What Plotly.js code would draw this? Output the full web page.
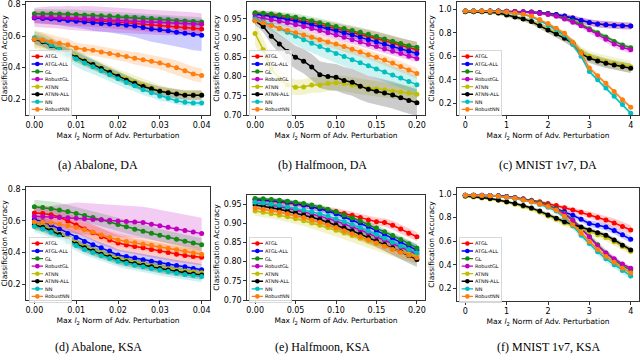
<!DOCTYPE html>
<html><head><meta charset="utf-8">
<script src="https://cdn.plot.ly/plotly-3.0.1.min.js"></script>
<style>html,body{margin:0;padding:0;background:#fff;}#chart{width:640px;height:360px;}</style>
</head><body><div id="chart"></div>
<script>
// ---------- x grids ----------
const xA = [0,0.002,0.004,0.006,0.008,0.01,0.012,0.014,0.016,0.018,0.02,0.022,0.024,0.026,0.028,0.03,0.032,0.034,0.036,0.038,0.04];
const xB = [0,0.01,0.02,0.03,0.04,0.05,0.06,0.07,0.08,0.09,0.1,0.11,0.12,0.13,0.14,0.15,0.16,0.17,0.18,0.19,0.2];
const xC = [0,0.2,0.4,0.6,0.8,1.0,1.2,1.4,1.6,1.8,2.0,2.2,2.4,2.6,2.8,3.0,3.2,3.4,3.6,3.8,4.0];

const seriesNames = ["ATGL","ATGL-ALL","GL","RobustGL","ATNN","ATNN-ALL","NN","RobustNN"];
const seriesColors = ["#ff0000","#0000ff","#138a13","#c000c0","#bfbf00","#000000","#00bfbf","#ff7f0e"];
const captions = ["(a) Abalone, DA","(b) Halfmoon, DA","(c) MNIST 1v7, DA","(d) Abalone, KSA","(e) Halfmoon, KSA","(f) MNIST 1v7, KSA"];
const xTicksA = [0,0.01,0.02,0.03,0.04];
const xTicksB = [0,0.05,0.1,0.15,0.2];
const xTicksC = [0,1,2,3,4];
const yTicksAcc = [0.2,0.4,0.6,0.8];
const yTicksHalf = [0.7,0.75,0.8,0.85,0.9,0.95];
const yTicksMnist = [0.2,0.4,0.6,0.8,1.0];

// ---------- (a) Abalone, DA ----------
const a_ATGL    = [0.72,0.718,0.715,0.712,0.71,0.706,0.703,0.70,0.697,0.693,0.69,0.685,0.68,0.676,0.672,0.668,0.664,0.66,0.655,0.65,0.645];
const a_ATGLALL = [0.715,0.712,0.71,0.705,0.70,0.695,0.69,0.685,0.68,0.678,0.675,0.67,0.665,0.655,0.645,0.64,0.635,0.625,0.618,0.61,0.605];
const a_GL      = [0.743,0.743,0.742,0.74,0.74,0.738,0.735,0.733,0.73,0.728,0.725,0.722,0.718,0.715,0.712,0.708,0.705,0.70,0.697,0.693,0.69];
const a_RGL     = [0.72,0.72,0.72,0.718,0.716,0.714,0.712,0.71,0.707,0.704,0.70,0.697,0.695,0.692,0.69,0.688,0.685,0.683,0.68,0.678,0.675];
const a_ATNN    = [0.58,0.565,0.545,0.52,0.495,0.47,0.445,0.42,0.40,0.375,0.35,0.33,0.31,0.29,0.27,0.255,0.245,0.235,0.23,0.228,0.228];
const a_ATNNALL = [0.58,0.565,0.54,0.515,0.49,0.465,0.44,0.42,0.395,0.37,0.345,0.32,0.30,0.28,0.265,0.25,0.24,0.232,0.225,0.225,0.225];
const a_NN      = [0.59,0.57,0.545,0.515,0.485,0.455,0.43,0.405,0.38,0.355,0.33,0.305,0.285,0.26,0.24,0.22,0.205,0.19,0.18,0.175,0.175];
const a_RNN     = [0.58,0.575,0.565,0.555,0.545,0.525,0.515,0.51,0.50,0.49,0.48,0.47,0.46,0.45,0.44,0.43,0.415,0.40,0.38,0.36,0.35];
const a_ATGL_sd    = [0.04,0.04,0.04,0.04,0.04,0.04,0.042,0.042,0.042,0.043,0.043,0.044,0.044,0.045,0.045,0.045,0.046,0.046,0.047,0.047,0.048];
const a_ATGLALL_sd = [0.03,0.03,0.035,0.035,0.04,0.04,0.045,0.05,0.05,0.055,0.06,0.065,0.07,0.075,0.08,0.085,0.09,0.09,0.095,0.1,0.1];
const a_GL_sd      = [0.03,0.03,0.03,0.03,0.03,0.03,0.03,0.03,0.03,0.03,0.03,0.03,0.03,0.03,0.03,0.03,0.03,0.03,0.03,0.03,0.03];
const a_RGL_sd     = [0.06,0.065,0.07,0.07,0.075,0.075,0.08,0.08,0.08,0.08,0.08,0.08,0.08,0.08,0.08,0.08,0.078,0.076,0.075,0.073,0.07];
const a_ATNN_sd    = [0.06,0.055,0.05,0.045,0.04,0.04,0.04,0.04,0.04,0.04,0.04,0.04,0.04,0.04,0.035,0.035,0.03,0.03,0.03,0.03,0.03];
const a_ATNNALL_sd = [0.03,0.03,0.03,0.03,0.03,0.03,0.03,0.03,0.03,0.03,0.03,0.03,0.03,0.03,0.03,0.03,0.03,0.03,0.03,0.03,0.03];
const a_NN_sd      = [0.04,0.04,0.045,0.045,0.045,0.05,0.05,0.045,0.045,0.04,0.04,0.04,0.035,0.035,0.03,0.03,0.025,0.025,0.02,0.02,0.02];
const a_RNN_sd     = [0.05,0.05,0.045,0.04,0.04,0.035,0.035,0.035,0.035,0.035,0.035,0.035,0.04,0.04,0.04,0.04,0.045,0.045,0.045,0.045,0.045];

// ---------- (b) Halfmoon, DA ----------
const b_ATGL    = [0.965,0.963,0.96,0.957,0.953,0.949,0.945,0.94,0.935,0.93,0.925,0.92,0.915,0.91,0.905,0.899,0.893,0.887,0.881,0.875,0.87];
const b_ATGLALL = [0.962,0.96,0.957,0.953,0.949,0.945,0.94,0.935,0.93,0.925,0.92,0.914,0.908,0.902,0.896,0.89,0.884,0.878,0.872,0.866,0.86];
const b_GL      = [0.966,0.965,0.963,0.96,0.957,0.954,0.95,0.945,0.94,0.935,0.93,0.925,0.92,0.915,0.91,0.904,0.898,0.892,0.886,0.88,0.876];
const b_RGL     = [0.955,0.952,0.948,0.944,0.94,0.935,0.93,0.925,0.92,0.914,0.908,0.902,0.896,0.89,0.884,0.878,0.872,0.866,0.86,0.853,0.847];
const b_ATNN    = [0.912,0.87,0.82,0.795,0.778,0.772,0.773,0.778,0.778,0.782,0.784,0.782,0.778,0.774,0.77,0.768,0.765,0.762,0.76,0.757,0.754];
const b_ATNNALL = [0.945,0.93,0.905,0.885,0.865,0.85,0.84,0.825,0.805,0.80,0.798,0.79,0.785,0.775,0.767,0.762,0.757,0.752,0.745,0.738,0.732];
const b_NN      = [0.95,0.943,0.934,0.925,0.915,0.905,0.896,0.887,0.878,0.869,0.86,0.852,0.844,0.836,0.828,0.82,0.812,0.804,0.796,0.787,0.779];
const b_RNN     = [0.945,0.94,0.933,0.926,0.92,0.914,0.908,0.902,0.896,0.89,0.885,0.878,0.871,0.864,0.857,0.85,0.843,0.835,0.826,0.817,0.808];
const b_ATGL_sd    = [0.008,0.008,0.009,0.009,0.01,0.01,0.011,0.012,0.012,0.013,0.014,0.014,0.015,0.016,0.016,0.017,0.018,0.018,0.019,0.02,0.02];
const b_ATGLALL_sd = [0.006,0.006,0.007,0.007,0.007,0.008,0.008,0.008,0.008,0.008,0.008,0.008,0.008,0.009,0.009,0.009,0.009,0.01,0.01,0.01,0.01];
const b_GL_sd      = [0.006,0.007,0.008,0.008,0.009,0.01,0.01,0.011,0.011,0.012,0.012,0.012,0.013,0.013,0.013,0.014,0.014,0.014,0.015,0.015,0.015];
const b_RGL_sd     = [0.008,0.008,0.009,0.009,0.01,0.01,0.01,0.01,0.01,0.01,0.01,0.01,0.01,0.01,0.01,0.01,0.01,0.01,0.01,0.01,0.01];
const b_ATNN_sd    = [0.03,0.03,0.03,0.025,0.022,0.02,0.02,0.02,0.02,0.02,0.02,0.02,0.02,0.02,0.02,0.02,0.02,0.02,0.02,0.02,0.02];
const b_ATNNALL_sd = [0.01,0.015,0.02,0.025,0.03,0.03,0.032,0.034,0.035,0.035,0.035,0.035,0.035,0.035,0.035,0.035,0.035,0.035,0.035,0.035,0.035];
const b_NN_sd      = [0.01,0.012,0.015,0.018,0.02,0.022,0.024,0.025,0.025,0.025,0.025,0.025,0.025,0.025,0.025,0.025,0.025,0.025,0.025,0.025,0.025];
const b_RNN_sd     = [0.008,0.009,0.01,0.01,0.011,0.011,0.012,0.012,0.012,0.012,0.012,0.012,0.012,0.012,0.012,0.012,0.013,0.013,0.013,0.014,0.014];

// ---------- (c) MNIST 1v7, DA ----------
const c_ATGL    = [0.985,0.985,0.985,0.985,0.985,0.984,0.982,0.98,0.977,0.972,0.965,0.955,0.942,0.925,0.905,0.888,0.875,0.868,0.863,0.86,0.858];
const c_ATGLALL = [0.985,0.985,0.985,0.985,0.985,0.984,0.982,0.98,0.977,0.972,0.965,0.955,0.942,0.925,0.905,0.888,0.875,0.868,0.863,0.86,0.858];
const c_GL      = [0.985,0.985,0.985,0.985,0.984,0.982,0.98,0.977,0.972,0.967,0.96,0.945,0.925,0.9,0.87,0.835,0.8,0.765,0.725,0.695,0.672];
const c_RGL     = [0.985,0.985,0.985,0.985,0.984,0.982,0.979,0.976,0.972,0.965,0.955,0.94,0.918,0.89,0.86,0.825,0.785,0.745,0.705,0.675,0.655];
const c_ATNN    = [0.98,0.98,0.978,0.975,0.968,0.953,0.937,0.92,0.898,0.865,0.83,0.795,0.76,0.715,0.64,0.6,0.575,0.555,0.54,0.525,0.51];
const c_ATNNALL = [0.98,0.98,0.978,0.975,0.968,0.952,0.935,0.918,0.895,0.86,0.824,0.79,0.753,0.71,0.625,0.583,0.56,0.54,0.525,0.51,0.498];
const c_NN      = [0.985,0.985,0.985,0.984,0.982,0.975,0.965,0.955,0.938,0.905,0.867,0.825,0.78,0.70,0.60,0.47,0.40,0.33,0.26,0.19,0.115];
const c_RNN     = [0.985,0.985,0.985,0.984,0.982,0.977,0.968,0.958,0.942,0.912,0.878,0.838,0.795,0.72,0.625,0.5,0.435,0.37,0.3,0.23,0.166];
const c_ATGL_sd    = [0.005,0.005,0.005,0.005,0.005,0.005,0.005,0.006,0.007,0.008,0.01,0.014,0.018,0.022,0.025,0.028,0.03,0.03,0.03,0.03,0.03];
const c_ATGLALL_sd = [0.005,0.005,0.005,0.005,0.005,0.005,0.005,0.006,0.007,0.008,0.01,0.014,0.018,0.022,0.025,0.028,0.03,0.03,0.03,0.03,0.03];
const c_GL_sd      = [0.005,0.005,0.005,0.005,0.005,0.005,0.006,0.007,0.008,0.009,0.01,0.012,0.014,0.016,0.018,0.02,0.02,0.02,0.02,0.02,0.02];
const c_RGL_sd     = [0.005,0.005,0.005,0.005,0.005,0.005,0.006,0.007,0.008,0.01,0.012,0.015,0.018,0.02,0.022,0.025,0.028,0.03,0.03,0.03,0.03];
const c_ATNN_sd    = [0.008,0.008,0.01,0.012,0.014,0.016,0.018,0.02,0.022,0.025,0.028,0.03,0.033,0.036,0.04,0.045,0.048,0.05,0.05,0.05,0.05];
const c_ATNNALL_sd = [0.008,0.008,0.01,0.012,0.014,0.016,0.018,0.02,0.022,0.025,0.028,0.03,0.033,0.035,0.038,0.04,0.04,0.04,0.04,0.04,0.04];
const c_NN_sd      = [0.005,0.005,0.005,0.005,0.006,0.007,0.008,0.009,0.01,0.012,0.014,0.016,0.018,0.02,0.02,0.02,0.02,0.02,0.02,0.02,0.02];
const c_RNN_sd     = [0.005,0.005,0.005,0.005,0.006,0.007,0.008,0.009,0.01,0.012,0.014,0.016,0.018,0.02,0.02,0.02,0.02,0.02,0.02,0.02,0.02];

// ---------- (d) Abalone, KSA ----------
const d_ATGL    = [0.65,0.648,0.64,0.625,0.60,0.575,0.55,0.525,0.50,0.48,0.46,0.448,0.438,0.43,0.42,0.41,0.40,0.39,0.382,0.376,0.37];
const d_ATGLALL = [0.61,0.595,0.575,0.55,0.52,0.495,0.47,0.45,0.43,0.41,0.385,0.375,0.365,0.355,0.345,0.335,0.325,0.318,0.31,0.30,0.292];
const d_GL      = [0.69,0.685,0.678,0.67,0.66,0.648,0.635,0.622,0.608,0.593,0.578,0.563,0.548,0.535,0.522,0.51,0.497,0.485,0.472,0.46,0.45];
const d_RGL     = [0.63,0.628,0.625,0.622,0.62,0.617,0.614,0.61,0.607,0.604,0.60,0.597,0.594,0.59,0.58,0.57,0.56,0.55,0.54,0.53,0.52];
const d_ATNN    = [0.58,0.565,0.545,0.52,0.49,0.462,0.437,0.417,0.398,0.38,0.364,0.35,0.338,0.327,0.317,0.307,0.298,0.29,0.284,0.278,0.272];
const d_ATNNALL = [0.575,0.56,0.54,0.515,0.485,0.455,0.43,0.41,0.39,0.372,0.355,0.342,0.33,0.32,0.31,0.30,0.29,0.281,0.273,0.265,0.258];
const d_NN      = [0.565,0.55,0.528,0.50,0.47,0.445,0.42,0.40,0.38,0.362,0.345,0.332,0.32,0.31,0.30,0.29,0.28,0.27,0.262,0.255,0.248];
const d_RNN     = [0.595,0.593,0.588,0.58,0.57,0.558,0.545,0.53,0.512,0.495,0.48,0.47,0.462,0.454,0.446,0.436,0.427,0.418,0.408,0.398,0.39];
const d_ATGL_sd    = [0.05,0.05,0.05,0.05,0.05,0.05,0.05,0.05,0.05,0.05,0.05,0.05,0.05,0.05,0.05,0.05,0.05,0.05,0.05,0.05,0.05];
const d_ATGLALL_sd = [0.03,0.03,0.03,0.032,0.032,0.033,0.033,0.034,0.034,0.035,0.035,0.035,0.035,0.035,0.035,0.035,0.035,0.035,0.035,0.035,0.035];
const d_GL_sd      = [0.045,0.045,0.045,0.045,0.04,0.04,0.04,0.04,0.04,0.04,0.04,0.04,0.04,0.04,0.04,0.04,0.04,0.04,0.04,0.04,0.04];
const d_RGL_sd     = [0.05,0.06,0.07,0.08,0.09,0.1,0.1,0.1,0.1,0.1,0.1,0.1,0.1,0.1,0.1,0.1,0.1,0.1,0.1,0.1,0.1];
const d_ATNN_sd    = [0.03,0.03,0.03,0.03,0.03,0.03,0.03,0.03,0.03,0.03,0.03,0.03,0.03,0.03,0.03,0.03,0.03,0.03,0.03,0.03,0.03];
const d_ATNNALL_sd = [0.03,0.03,0.03,0.03,0.03,0.03,0.03,0.03,0.03,0.03,0.03,0.03,0.03,0.03,0.03,0.03,0.03,0.03,0.03,0.03,0.03];
const d_NN_sd      = [0.035,0.035,0.035,0.035,0.035,0.035,0.035,0.035,0.035,0.035,0.035,0.035,0.035,0.035,0.035,0.035,0.035,0.035,0.035,0.035,0.035];
const d_RNN_sd     = [0.045,0.045,0.045,0.04,0.04,0.04,0.04,0.04,0.04,0.04,0.04,0.04,0.04,0.04,0.04,0.04,0.04,0.04,0.04,0.04,0.04];

// ---------- (e) Halfmoon, KSA ----------
const e_ATGL    = [0.962,0.96,0.958,0.956,0.953,0.95,0.947,0.943,0.939,0.935,0.931,0.926,0.921,0.915,0.909,0.904,0.902,0.895,0.885,0.874,0.865];
const e_ATGLALL = [0.962,0.961,0.96,0.958,0.955,0.952,0.948,0.943,0.938,0.932,0.925,0.917,0.909,0.90,0.891,0.881,0.871,0.861,0.851,0.84,0.83];
const e_GL      = [0.965,0.964,0.962,0.96,0.958,0.955,0.952,0.948,0.943,0.937,0.93,0.922,0.914,0.906,0.897,0.888,0.878,0.868,0.858,0.847,0.836];
const e_RGL     = [0.955,0.952,0.948,0.944,0.94,0.935,0.93,0.925,0.919,0.913,0.906,0.899,0.891,0.883,0.874,0.865,0.856,0.847,0.838,0.829,0.82];
const e_ATNN    = [0.932,0.929,0.925,0.921,0.917,0.912,0.907,0.901,0.895,0.889,0.882,0.875,0.868,0.861,0.854,0.847,0.84,0.833,0.826,0.82,0.815];
const e_ATNNALL = [0.948,0.945,0.941,0.937,0.932,0.927,0.922,0.916,0.91,0.903,0.896,0.888,0.88,0.872,0.863,0.854,0.845,0.836,0.826,0.816,0.806];
const e_NN      = [0.955,0.953,0.95,0.947,0.943,0.939,0.935,0.93,0.925,0.919,0.912,0.905,0.897,0.889,0.88,0.871,0.861,0.851,0.841,0.832,0.823];
const e_RNN     = [0.94,0.937,0.933,0.929,0.925,0.92,0.915,0.909,0.903,0.896,0.889,0.881,0.873,0.865,0.857,0.849,0.84,0.832,0.824,0.817,0.81];
const e_ATGL_sd    = [0.006,0.006,0.006,0.006,0.007,0.007,0.007,0.008,0.008,0.008,0.009,0.009,0.01,0.01,0.01,0.011,0.011,0.012,0.012,0.012,0.012];
const e_ATGLALL_sd = [0.006,0.006,0.006,0.006,0.007,0.007,0.007,0.007,0.008,0.008,0.008,0.008,0.009,0.009,0.01,0.01,0.011,0.012,0.013,0.014,0.015];
const e_GL_sd      = [0.005,0.005,0.005,0.005,0.005,0.005,0.006,0.006,0.006,0.006,0.006,0.007,0.007,0.007,0.008,0.008,0.008,0.009,0.009,0.01,0.01];
const e_RGL_sd     = [0.007,0.007,0.007,0.007,0.008,0.008,0.008,0.008,0.008,0.009,0.009,0.009,0.01,0.01,0.01,0.011,0.012,0.013,0.014,0.015,0.016];
const e_ATNN_sd    = [0.012,0.012,0.012,0.013,0.013,0.014,0.014,0.015,0.015,0.016,0.016,0.017,0.017,0.018,0.018,0.018,0.019,0.019,0.02,0.02,0.02];
const e_ATNNALL_sd = [0.008,0.008,0.009,0.009,0.01,0.01,0.01,0.011,0.011,0.012,0.012,0.013,0.013,0.014,0.015,0.016,0.017,0.018,0.019,0.02,0.02];
const e_NN_sd      = [0.008,0.008,0.009,0.009,0.01,0.01,0.01,0.011,0.011,0.012,0.012,0.013,0.014,0.015,0.016,0.017,0.018,0.019,0.02,0.021,0.022];
const e_RNN_sd     = [0.008,0.008,0.008,0.009,0.009,0.009,0.01,0.01,0.01,0.01,0.01,0.011,0.011,0.011,0.012,0.012,0.012,0.013,0.013,0.014,0.014];

// ---------- (f) MNIST 1v7, KSA ----------
const f_ATGL    = [0.99,0.99,0.99,0.988,0.985,0.978,0.97,0.96,0.948,0.935,0.92,0.902,0.884,0.865,0.845,0.822,0.80,0.78,0.755,0.725,0.695];
const f_ATGLALL = [0.99,0.99,0.99,0.988,0.985,0.978,0.968,0.955,0.94,0.922,0.90,0.875,0.85,0.82,0.785,0.75,0.735,0.72,0.69,0.655,0.615];
const f_GL      = [0.99,0.99,0.988,0.986,0.983,0.977,0.968,0.957,0.944,0.928,0.905,0.875,0.836,0.78,0.71,0.64,0.57,0.50,0.44,0.39,0.355];
const f_RGL     = [0.99,0.99,0.988,0.985,0.982,0.975,0.965,0.953,0.938,0.92,0.897,0.867,0.83,0.775,0.71,0.635,0.56,0.50,0.45,0.405,0.37];
const f_ATNN    = [0.98,0.975,0.967,0.958,0.946,0.93,0.914,0.895,0.874,0.847,0.814,0.785,0.755,0.73,0.705,0.68,0.655,0.63,0.595,0.555,0.515];
const f_ATNNALL = [0.983,0.978,0.97,0.962,0.95,0.935,0.92,0.902,0.882,0.855,0.822,0.795,0.765,0.742,0.72,0.695,0.672,0.65,0.61,0.565,0.525];
const f_NN      = [0.99,0.99,0.988,0.985,0.98,0.972,0.962,0.948,0.932,0.912,0.888,0.855,0.80,0.73,0.65,0.58,0.51,0.45,0.40,0.35,0.305];
const f_RNN     = [0.99,0.99,0.988,0.985,0.98,0.973,0.963,0.95,0.935,0.916,0.893,0.862,0.81,0.74,0.665,0.595,0.53,0.47,0.42,0.37,0.33];
const f_ATGL_sd    = [0.005,0.005,0.005,0.005,0.005,0.005,0.005,0.005,0.008,0.01,0.012,0.015,0.018,0.02,0.025,0.03,0.032,0.035,0.038,0.04,0.04];
const f_ATGLALL_sd = [0.005,0.005,0.005,0.005,0.005,0.005,0.005,0.006,0.008,0.01,0.012,0.015,0.018,0.022,0.025,0.028,0.03,0.03,0.03,0.03,0.03];
const f_GL_sd      = [0.005,0.005,0.005,0.005,0.005,0.005,0.006,0.007,0.008,0.01,0.012,0.015,0.018,0.02,0.022,0.025,0.025,0.025,0.025,0.025,0.025];
const f_RGL_sd     = [0.005,0.005,0.005,0.005,0.005,0.005,0.006,0.007,0.008,0.01,0.012,0.014,0.016,0.018,0.02,0.02,0.02,0.02,0.02,0.02,0.02];
const f_ATNN_sd    = [0.008,0.008,0.01,0.01,0.012,0.014,0.016,0.018,0.02,0.022,0.024,0.026,0.028,0.03,0.03,0.03,0.03,0.03,0.03,0.03,0.03];
const f_ATNNALL_sd = [0.008,0.008,0.009,0.01,0.011,0.012,0.013,0.014,0.015,0.016,0.017,0.018,0.019,0.02,0.02,0.02,0.02,0.02,0.02,0.02,0.02];
const f_NN_sd      = [0.005,0.005,0.005,0.005,0.006,0.007,0.008,0.01,0.012,0.015,0.018,0.022,0.026,0.03,0.03,0.03,0.03,0.03,0.03,0.03,0.03];
const f_RNN_sd     = [0.005,0.005,0.005,0.005,0.006,0.007,0.008,0.009,0.01,0.012,0.014,0.016,0.018,0.02,0.02,0.02,0.02,0.02,0.02,0.02,0.02];

// ---------- assembly ----------
const panelMeans = [
  [a_ATGL,a_ATGLALL,a_GL,a_RGL,a_ATNN,a_ATNNALL,a_NN,a_RNN],
  [b_ATGL,b_ATGLALL,b_GL,b_RGL,b_ATNN,b_ATNNALL,b_NN,b_RNN],
  [c_ATGL,c_ATGLALL,c_GL,c_RGL,c_ATNN,c_ATNNALL,c_NN,c_RNN],
  [d_ATGL,d_ATGLALL,d_GL,d_RGL,d_ATNN,d_ATNNALL,d_NN,d_RNN],
  [e_ATGL,e_ATGLALL,e_GL,e_RGL,e_ATNN,e_ATNNALL,e_NN,e_RNN],
  [f_ATGL,f_ATGLALL,f_GL,f_RGL,f_ATNN,f_ATNNALL,f_NN,f_RNN]
];
const panelSds = [
  [a_ATGL_sd,a_ATGLALL_sd,a_GL_sd,a_RGL_sd,a_ATNN_sd,a_ATNNALL_sd,a_NN_sd,a_RNN_sd],
  [b_ATGL_sd,b_ATGLALL_sd,b_GL_sd,b_RGL_sd,b_ATNN_sd,b_ATNNALL_sd,b_NN_sd,b_RNN_sd],
  [c_ATGL_sd,c_ATGLALL_sd,c_GL_sd,c_RGL_sd,c_ATNN_sd,c_ATNNALL_sd,c_NN_sd,c_RNN_sd],
  [d_ATGL_sd,d_ATGLALL_sd,d_GL_sd,d_RGL_sd,d_ATNN_sd,d_ATNNALL_sd,d_NN_sd,d_RNN_sd],
  [e_ATGL_sd,e_ATGLALL_sd,e_GL_sd,e_RGL_sd,e_ATNN_sd,e_ATNNALL_sd,e_NN_sd,e_RNN_sd],
  [f_ATGL_sd,f_ATGLALL_sd,f_GL_sd,f_RGL_sd,f_ATNN_sd,f_ATNNALL_sd,f_NN_sd,f_RNN_sd]
];
const panelX = [xA,xB,xC,xA,xB,xC];
const panelXTicks = [xTicksA,xTicksB,xTicksC,xTicksA,xTicksB,xTicksC];
const panelXFmt = ['.2f','.2f','d','.2f','.2f','d'];
const panelYTicks = [yTicksAcc,yTicksHalf,yTicksMnist,yTicksAcc,yTicksHalf,yTicksMnist];
const panelYFmt = ['.1f','.2f','.1f','.1f','.2f','.1f'];
const panelXRange = [[-0.002,0.042],[-0.01,0.21],[-0.2,4.2],[-0.002,0.042],[-0.01,0.21],[-0.2,4.2]];
const panelYRange = [[0.099,0.817],[0.70,0.994],[0.10,1.062],[0.10,0.815],[0.70,0.974],[0.092,1.051]];
// plot-area pixel boxes [left,right,top,bottom]
const boxes = [[26,210,2,115],[247,425,2,115],[457,639,2,115],[26,210,187,300],[247,425,195,300],[457,639,188,301]];
const legendPos = [[29,50],[249,50],[459,50],[29,237],[249,237],[459,237]];
const captionPos = [[98,165],[322,165],[548,165],[98,347],[322,347],[548,347]];

function rgba(hex, a){
  const r=parseInt(hex.slice(1,3),16),g=parseInt(hex.slice(3,5),16),b=parseInt(hex.slice(5,7),16);
  return `rgba(${r},${g},${b},${a})`;
}

const W=640,H=360;
const traces=[];
const layout={width:W,height:H,margin:{l:0,r:0,t:0,b:0,autoexpand:false},paper_bgcolor:'#fff',plot_bgcolor:'#fff',
  font:{family:'DejaVu Sans',color:'#000'},showlegend:true,annotations:[]};

for(let p=0;p<6;p++){
  const sfx = p===0?'':String(p+1);
  const xa='x'+sfx, ya='y'+sfx, leg='legend'+sfx;
  const xs=panelX[p];
  for(let s=0;s<8;s++){
    const m=panelMeans[p][s], sd=panelSds[p][s];
    const up=m.map((v,i)=>v+sd[i]), lo=m.map((v,i)=>v-sd[i]);
    traces.push({x:xs.concat(xs.slice().reverse()),y:up.concat(lo.slice().reverse()),
      type:'scatter',mode:'lines',fill:'toself',fillcolor:rgba(seriesColors[s],0.2),
      line:{width:0,color:'rgba(0,0,0,0)'},hoverinfo:'skip',showlegend:false,xaxis:xa,yaxis:ya});
  }
  for(let s=0;s<8;s++){
    traces.push({x:xs,y:panelMeans[p][s],type:'scatter',mode:'lines+markers',name:seriesNames[s],
      line:{color:seriesColors[s],width:1.5},marker:{color:seriesColors[s],size:5,symbol:'circle'},
      xaxis:xa,yaxis:ya,legend:leg});
  }
  const b=boxes[p];
  const axCommon={showline:true,mirror:true,linecolor:'#000',linewidth:0.8,ticks:'outside',ticklen:3,
    tickwidth:0.8,tickcolor:'#000',showgrid:false,zeroline:false,automargin:false,
    tickfont:{size:8,family:'DejaVu Sans',color:'#000'}};
  layout['xaxis'+sfx]=Object.assign({},axCommon,{domain:[b[0]/W,b[1]/W],anchor:ya,range:panelXRange[p],
    tickvals:panelXTicks[p],tickformat:panelXFmt[p],
    title:{text:'Max <i>l</i><sub>2</sub> Norm of Adv. Perturbation',font:{size:7.5,family:'DejaVu Sans',color:'#000'},standoff:3}});
  layout['yaxis'+sfx]=Object.assign({},axCommon,{domain:[1-b[3]/H,1-b[2]/H],anchor:xa,range:panelYRange[p],
    tickvals:panelYTicks[p],tickformat:panelYFmt[p],
    title:{text:'Classification Accuracy',font:{size:7.5,family:'DejaVu Sans',color:'#000'},standoff:3}});
  layout[leg]={x:legendPos[p][0]/W,y:1-legendPos[p][1]/H,xanchor:'left',yanchor:'top',
    bgcolor:'rgba(255,255,255,0.8)',bordercolor:'#cccccc',borderwidth:2,itemsizing:'constant',
    font:{size:13,family:'DejaVu Sans',color:'#000'},tracegroupgap:0};
  layout.annotations.push({text:captions[p],xref:'paper',yref:'paper',x:captionPos[p][0]/W,y:1-captionPos[p][1]/H,
    xanchor:'center',yanchor:'middle',showarrow:false,font:{family:'Liberation Serif',size:12,color:'#000'}});
}

Plotly.newPlot('chart',traces,layout,{staticPlot:true}).then(function(gd){
  const S=0.38;
  for(let p=0;p<6;p++){
    const cls = p===0?'legend':'legend'+(p+1);
    const g = gd.querySelector('g.'+cls);
    if(g){
      g.setAttribute('transform',`translate(${legendPos[p][0]},${legendPos[p][1]}) scale(${S})`);
      g.querySelectorAll('path.js-line').forEach(el=>{el.style.strokeWidth='3.5px';});
    }
  }
});
</script>
</body></html>
